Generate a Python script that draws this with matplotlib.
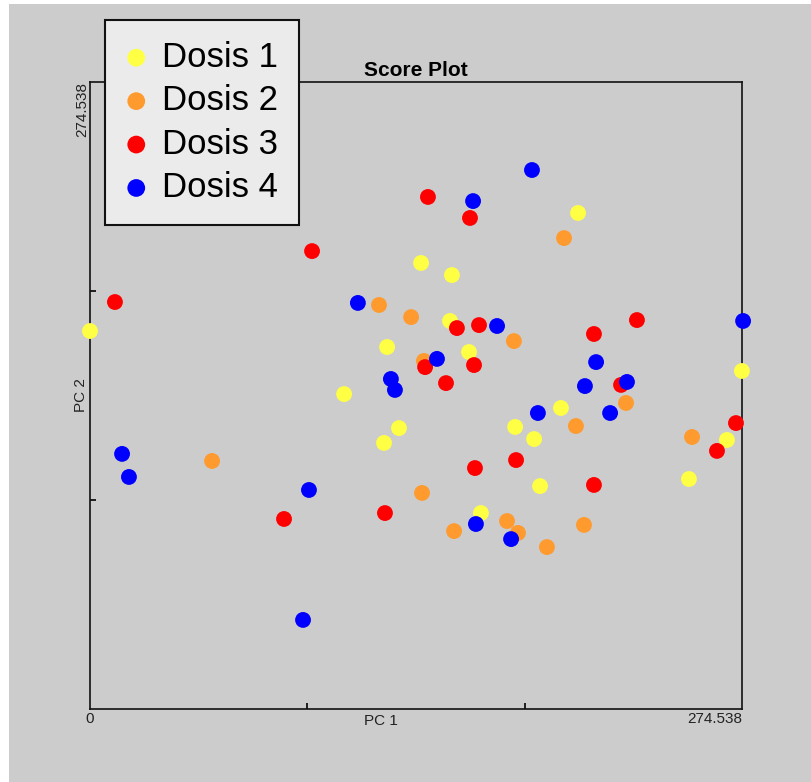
import matplotlib
matplotlib.use("Agg")
import matplotlib.pyplot as plt
import matplotlib.patches as patch
import numpy as np

plt.rcParams['font.family'] = ['Liberation Sans', 'DejaVu Sans']

AXMAX = 274.538

# Dosis 1
d1_x = [0.0, 139.4, 152.4, 205.5, 125.1, 151.6, 159.6, 107.0, 123.8, 130.1,
        198.3, 179.0, 187.0, 189.5, 164.6, 252.2, 268.2, 274.5]
d1_y = [165.5, 195.3, 190.0, 217.2, 158.5, 169.9, 156.3, 137.9, 116.5, 123.0,
        131.8, 123.5, 118.2, 97.6, 85.8, 100.7, 117.8, 148.0]
# Dosis 2
d2_x = [51.4, 121.7, 135.2, 199.6, 178.5, 140.6, 225.7, 204.6, 139.8, 153.3,
        175.6, 180.2, 192.4, 208.0, 253.5]
d2_y = [108.6, 176.9, 171.6, 206.2, 161.1, 152.4, 134.0, 123.9, 94.6, 77.9,
        82.3, 77.1, 70.9, 80.6, 119.1]
# Dosis 3
d3_x = [10.5, 93.5, 142.3, 160.0, 154.5, 163.8, 141.1, 161.7, 149.9, 212.2,
        230.3, 223.6, 272.0, 264.0, 179.4, 162.1, 212.2, 124.2, 81.7]
d3_y = [178.2, 200.5, 224.2, 215.0, 166.8, 168.1, 149.7, 150.6, 142.7, 164.2,
        170.3, 141.9, 125.2, 113.0, 109.0, 105.5, 98.1, 85.8, 83.2]
# Dosis 4
d4_x = [13.5, 16.4, 92.2, 89.7, 112.8, 126.7, 128.4, 186.1, 161.3, 171.4,
        146.1, 213.1, 208.4, 226.1, 219.0, 188.6, 275.0, 162.5, 177.3]
d4_y = [111.7, 101.6, 95.9, 39.0, 177.8, 144.5, 139.7, 236.0, 222.4, 167.7,
        153.3, 151.9, 141.4, 143.2, 129.6, 129.6, 169.9, 81.0, 74.4]

groups = [("Dosis 1", d1_x, d1_y, "#ffff44"),
          ("Dosis 2", d2_x, d2_y, "#ff9a2e"),
          ("Dosis 3", d3_x, d3_y, "#ff0000"),
          ("Dosis 4", d4_x, d4_y, "#0000ff")]

bg = "#cccccc"
W, H = 812, 782
fig = plt.figure(figsize=(W / 100, H / 100), dpi=100, facecolor="white")
# gray canvas with thin white strip top and left, like the screenshot
fig.patches.append(patch.Rectangle((9 / W, 0), 1, 1 - 4 / H, transform=fig.transFigure,
                                   facecolor=bg, edgecolor="none", zorder=-5))

ax = fig.add_axes([90 / W, 73 / H, 652 / W, 627 / H])
ax.set_facecolor(bg)
for s in ax.spines.values():
    s.set_linewidth(1.2)
    s.set_color("#111111")

for name, xs, ys, c in groups:
    ax.scatter(xs, ys, s=130, color=c, edgecolors="none", label=name, clip_on=False, zorder=3)

ax.set_xlim(0, AXMAX)
ax.set_ylim(0, AXMAX)
ax.set_xticks([AXMAX / 3, 2 * AXMAX / 3])
ax.set_yticks([AXMAX / 3, 2 * AXMAX / 3])
ax.tick_params(direction="in", length=4, width=1.2, labelbottom=False, labelleft=False)

ax.set_title("Score Plot", fontsize=15, fontweight="bold", pad=4)

lab = dict(fontsize=11, color="#222222")
ax.text(0, -0.005, "0", ha="center", va="top", transform=ax.transAxes, **lab)
ax.text(1, -0.005, "274.538", ha="right", va="top", transform=ax.transAxes, **lab)
ax.text(0.446, -0.008, "PC 1", ha="center", va="top", transform=ax.transAxes, **lab)
ax.text(-0.012, 1, "274.538", ha="center", va="top", rotation=90, transform=ax.transAxes, **lab)
ax.text(-0.014, 0.501, "PC 2", ha="center", va="center", rotation=90, transform=ax.transAxes, **lab)

leg = fig.legend(loc="upper left", bbox_to_anchor=(105 / W, 1 - 20 / H), borderaxespad=0,
                 fontsize=25, handlelength=0.6, handletextpad=0.45, borderpad=0.6,
                 labelspacing=0.3, fancybox=False, framealpha=1, scatterpoints=1,
                 markerscale=1.12)
leg.get_frame().set_facecolor("#ebebeb")
leg.get_frame().set_edgecolor("#111111")
leg.get_frame().set_linewidth(1.5)

fig.savefig("out.png", dpi=100, facecolor=fig.get_facecolor())
